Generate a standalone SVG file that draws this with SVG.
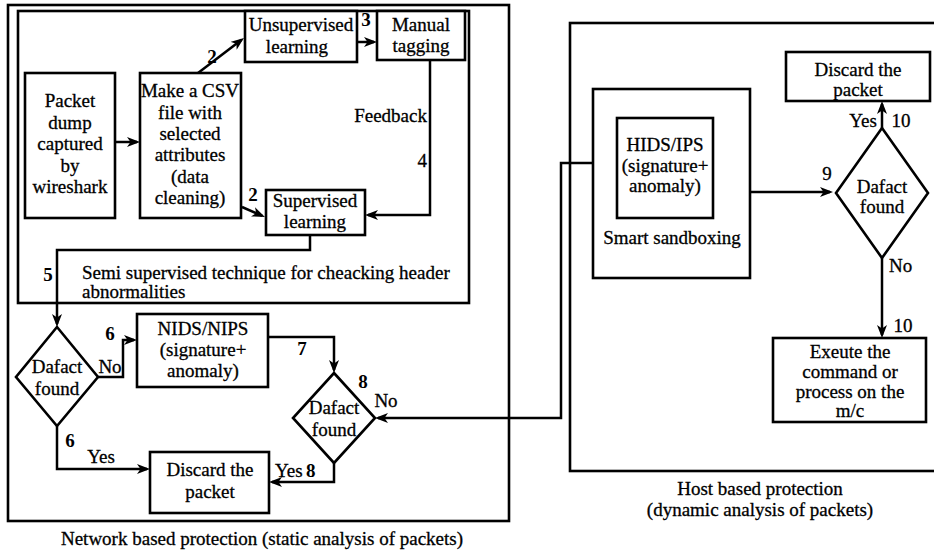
<svg xmlns="http://www.w3.org/2000/svg" width="934" height="555" viewBox="0 0 934 555" font-family="'Liberation Serif', 'DejaVu Serif', 'Times New Roman', serif">
<style>
.b{fill:#fff;stroke:#000;stroke-width:2.6}
.f{fill:none;stroke:#000;stroke-width:2.6}
.c{fill:none;stroke:#000;stroke-width:2.5;marker-end:url(#ah)}
text{font-family:'Liberation Serif','DejaVu Serif','Times New Roman',serif;font-size:19px;fill:#000;stroke:#000;stroke-width:0.3}
.m{text-anchor:middle}
.r{text-anchor:end}
.n{font-weight:bold;stroke-width:0}
</style>
<defs>
<marker id="ah" viewBox="0 0 13 10" refX="10" refY="5" markerWidth="13" markerHeight="10" markerUnits="userSpaceOnUse" orient="auto">
<path d="M0,0 L13,5 L0,10 L3.5,5 z" fill="#000"/>
</marker>
</defs>
<rect width="934" height="555" fill="#fff"/>

<g id="network-zone">
<rect class="f" x="8" y="5" width="501" height="516"/>
<text class="m" x="262" y="545">Network based protection (static analysis of packets)</text>
</g>
<g id="semi-supervised-zone">
<rect class="f" x="18" y="11" width="451" height="292"/>
<text x="82" y="279">Semi supervised technique for cheacking header</text>
<text x="82" y="298">abnormalities</text>
</g>
<g id="host-zone">
<rect class="f" x="570" y="23" width="380" height="448"/>
<text class="m" x="760" y="495">Host based protection</text>
<text class="m" x="760" y="516">(dynamic analysis of packets)</text>
</g>

<g id="connectors">
<path class="c" d="M115,142 H137"/>
<path class="c" d="M198,73 L241.6,39.8"/>
<path class="c" d="M242,207 L262.2,215.8"/>
<path class="c" d="M357,42 H374"/>
<path class="c" d="M430,60 V215 H368"/>
<path class="c" d="M310,235 V250 H57 V324"/>
<path class="c" d="M97,377 H123 V340 H134"/>
<path class="c" d="M268,337 H334 V370"/>
<path class="c" d="M57,426 V469 H147"/>
<path class="c" d="M334,463 V482 H272"/>
<path class="c" d="M593,163 H561 V418 H378"/>
<path class="c" d="M750,192 H830"/>
<path class="c" d="M882,128 V104"/>
<path class="c" d="M882,258 V335"/>
<text class="n m" x="212" y="63">2</text>
<text class="n m" x="253" y="201">2</text>
<text class="n m" x="366" y="26">3</text>
<text class="r" x="427" y="122">Feedback</text>
<text class="r" x="427" y="167">4</text>
<text class="n m" x="48" y="281">5</text>
<text class="n m" x="110" y="340">6</text>
<text class="m" x="110" y="373">No</text>
<text class="n m" x="70" y="447">6</text>
<text class="m" x="101" y="463">Yes</text>
<text class="n m" x="302" y="355">7</text>
<text class="n m" x="363" y="388">8</text>
<text class="m" x="386" y="407">No</text>
<text x="275" y="477">Yes</text>
<text class="n" x="306" y="477">8</text>
<text class="m" x="827" y="180">9</text>
<text class="m" x="863" y="127">Yes</text>
<text class="m" x="901" y="127">10</text>
<text x="889" y="272">No</text>
<text class="m" x="903" y="332">10</text>
</g>

<g id="packet-dump">
<rect class="b" x="25" y="73" width="90" height="145"/>
<text class="m" x="70" y="107">Packet</text>
<text class="m" x="70" y="128.5">dump</text>
<text class="m" x="70" y="150">captured</text>
<text class="m" x="70" y="171.5">by</text>
<text class="m" x="70" y="193">wireshark</text>
</g>
<g id="make-csv">
<rect class="b" x="140" y="73" width="101" height="145"/>
<text class="m" x="190" y="97">Make a CSV</text>
<text class="m" x="190" y="118.5">file with</text>
<text class="m" x="190" y="140">selected</text>
<text class="m" x="190" y="161">attributes</text>
<text class="m" x="190" y="182.5">(data</text>
<text class="m" x="190" y="204">cleaning)</text>
</g>
<g id="unsupervised">
<rect class="b" x="245" y="11" width="112" height="51"/>
<text class="m" x="301" y="31">Unsupervised</text>
<text class="m" x="297" y="53">learning</text>
</g>
<g id="manual-tagging">
<rect class="b" x="377" y="11" width="88" height="49"/>
<text class="m" x="421" y="31">Manual</text>
<text class="m" x="421" y="52">tagging</text>
</g>
<g id="supervised">
<rect class="b" x="266" y="190" width="99" height="45"/>
<text class="m" x="315" y="207">Supervised</text>
<text class="m" x="315" y="228">learning</text>
</g>
<g id="dafact-1">
<polygon class="b" points="57,327 98,377 57,426 16,377"/>
<text class="m" x="57" y="373">Dafact</text>
<text class="m" x="57" y="395">found</text>
</g>
<g id="nids">
<rect class="b" x="137" y="314" width="131" height="73"/>
<text class="m" x="203" y="335">NIDS/NIPS</text>
<text class="m" x="203" y="356">(signature+</text>
<text class="m" x="203" y="377">anomaly)</text>
</g>
<g id="dafact-2">
<polygon class="b" points="334,373 375,418 334,463 293,418"/>
<text class="m" x="334" y="414">Dafact</text>
<text class="m" x="334" y="436">found</text>
</g>
<g id="discard-1">
<rect class="b" x="150" y="452" width="119" height="61"/>
<text class="m" x="210" y="476">Discard the</text>
<text class="m" x="210" y="498">packet</text>
</g>
<g id="smart-sandboxing">
<rect class="b" x="593" y="89" width="157" height="189"/>
<text class="m" x="672" y="244">Smart sandboxing</text>
</g>
<g id="hids">
<rect class="b" x="617" y="118" width="96" height="100"/>
<text class="m" x="665" y="151">HIDS/IPS</text>
<text class="m" x="665" y="172">(signature+</text>
<text class="m" x="665" y="192">anomaly)</text>
</g>
<g id="dafact-3">
<polygon class="b" points="882,128 928,193 882,258 836,193"/>
<text class="m" x="882" y="193">Dafact</text>
<text class="m" x="882" y="213">found</text>
</g>
<g id="discard-2">
<rect class="b" x="786" y="52" width="144" height="49"/>
<text class="m" x="858" y="76">Discard the</text>
<text class="m" x="858" y="96">packet</text>
</g>
<g id="execute">
<rect class="b" x="773" y="338" width="153" height="84"/>
<text class="m" x="850" y="358">Exeute the</text>
<text class="m" x="850" y="378">command or</text>
<text class="m" x="850" y="398">process on the</text>
<text class="m" x="850" y="417">m/c</text>
</g>
</svg>
